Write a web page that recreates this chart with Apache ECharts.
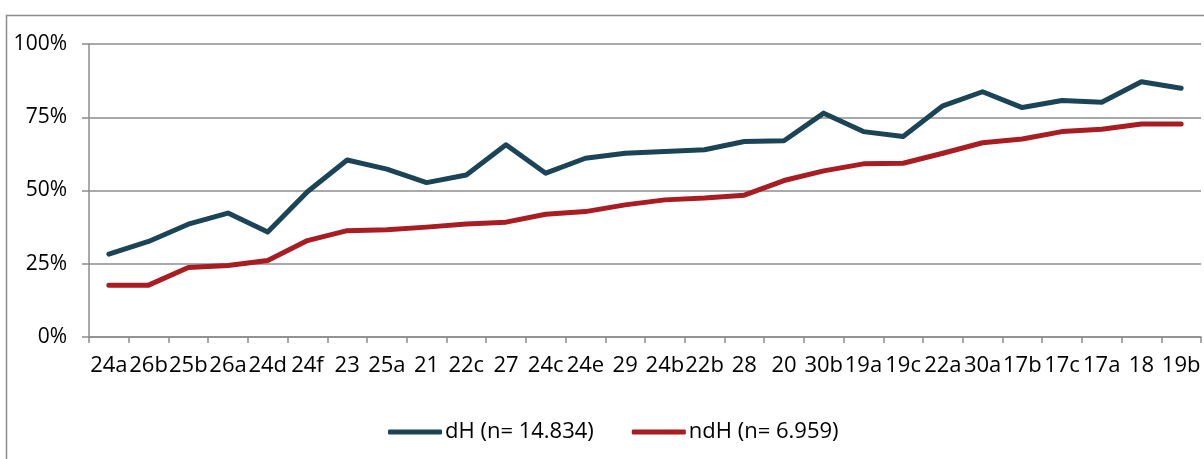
<!DOCTYPE html>
<html>
<head>
<meta charset="utf-8">
<script src="https://cdn.jsdelivr.net/npm/echarts@6/dist/echarts.min.js"></script>
<style>
html,body{margin:0;padding:0;background:#fff;}
#chart{width:1204px;height:459px;}
</style>
</head>
<body>
<div id="chart"></div>
<script>
var categories = ['24a','26b','25b','26a','24d','24f','23','25a','21','22c','27','24c','24e','29','24b','22b','28','20','30b','19a','19c','22a','30a','17b','17c','17a','18','19b'];
var dH = [28.3,32.6,38.5,42.3,35.8,49.6,60.4,57.3,52.7,55.3,65.6,55.9,61.0,62.7,63.3,63.9,66.7,67.0,76.4,70.1,68.4,78.9,83.7,78.3,80.7,80.1,87.1,84.9];
var ndH = [17.7,17.7,23.7,24.4,26.1,32.9,36.3,36.6,37.5,38.6,39.2,41.9,42.8,45.1,46.8,47.4,48.4,53.4,56.7,59.1,59.3,62.7,66.3,67.6,70.1,70.9,72.7,72.7];
var yTicks = [0,25,50,75,100];
var seriesNames = ['dH (n= 14.834)','ndH (n= 6.959)'];

var chart = echarts.init(document.getElementById('chart'), null, {renderer:'canvas'});
var FONT = '"Open Sans", "Noto Sans", sans-serif';
chart.setOption({
  animation:false,
  backgroundColor:'#fff',
  graphic:[{type:'rect', shape:{x:6.5,y:15.5,width:1400,height:600}, style:{fill:'none',stroke:'#8c8c8c',lineWidth:1.5}, silent:true}],
  grid:{left:89, right:3, top:44, bottom:122, containLabel:false},
  legend:{
    data:seriesNames,
    left:383, top:416,
    itemWidth:54, itemHeight:5, itemGap:38,
    icon:'roundRect',
    textStyle:{fontFamily:FONT, fontSize:22, color:'#000', padding:[0,0,0,-2]}
  },
  xAxis:{
    type:'category', data:categories, boundaryGap:true,
    axisLine:{lineStyle:{color:'#8c8c8c', width:1.5}},
    axisTick:{show:true, alignWithLabel:false, length:6, lineStyle:{color:'#8c8c8c', width:1.5}},
    axisLabel:{interval:0, fontFamily:FONT, fontSize:22, color:'#000', margin:18}
  },
  yAxis:{
    type:'value', min:yTicks[0], max:yTicks[yTicks.length-1], interval:25,
    axisLine:{show:true, lineStyle:{color:'#8c8c8c', width:1.5}},
    axisTick:{show:true, length:7, lineStyle:{color:'#8c8c8c', width:1.5}},
    splitLine:{show:true, lineStyle:{color:'#8c8c8c', width:1.5}},
    axisLabel:{fontFamily:FONT, fontSize:21, color:'#000', margin:22, formatter:function(v){return v+'%';}}
  },
  series:[
    {name:seriesNames[0], type:'line', data:dH, symbol:'none', lineStyle:{color:'#1b4457', width:5, cap:'round', join:'round'}, itemStyle:{color:'#1b4457'}},
    {name:seriesNames[1], type:'line', data:ndH, symbol:'none', lineStyle:{color:'#a81c22', width:5, cap:'round', join:'round'}, itemStyle:{color:'#a81c22'}}
  ]
});
</script>
</body>
</html>
